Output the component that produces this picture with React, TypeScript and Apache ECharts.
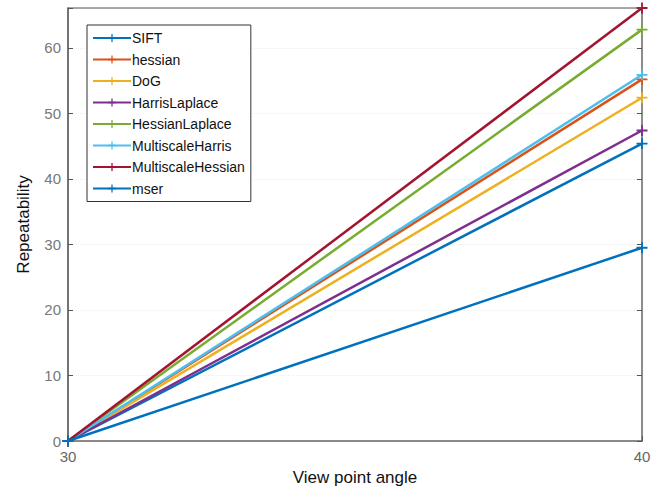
import React, { useEffect, useRef } from "react";
import * as echarts from "echarts";

const xValues = [30, 40];
const seriesNames = [
  "SIFT",
  "hessian",
  "DoG",
  "HarrisLaplace",
  "HessianLaplace",
  "MultiscaleHarris",
  "MultiscaleHessian",
  "mser",
];
const startValues = [0, 0, 0, 0, 0, 0, 0, 0];
const endValues = [45.4, 55.2, 52.4, 47.4, 62.8, 55.9, 66.1, 29.5];
const colors = [
  "#0072BD",
  "#D95319",
  "#EDB120",
  "#7E2F8E",
  "#77AC30",
  "#4DBEEE",
  "#A2142F",
  "#0072BD",
];
const yTicks = [0, 10, 20, 30, 40, 50, 60];

const plusSymbol = "path://M4.2,0H5.8V4.2H10V5.8H5.8V10H4.2V5.8H0V4.2H4.2Z";

export default function App() {
  const ref = useRef<HTMLDivElement>(null);
  useEffect(() => {
    if (!ref.current) return;
    const chart = echarts.init(ref.current, null, { renderer: "svg" });
    const font = "Liberation Sans, Arial, sans-serif";
    chart.setOption({
      animation: false,
      backgroundColor: "#fff",
      grid: { left: 68, right: 23, top: 8, bottom: 48, containLabel: false },
      legend: {
        orient: "vertical",
        left: 87,
        top: 25,
        data: seriesNames,
        itemWidth: 38,
        itemHeight: 10,
        itemGap: 5.5,
        padding: [5, 6, 5, 5],
        borderColor: "#333",
        borderWidth: 1,
        backgroundColor: "#fff",
        textStyle: { fontFamily: font, fontSize: 14, color: "#111", padding: [0, 0, 0, -4], lineHeight: 16 },
      },
      xAxis: {
        type: "value",
        min: 30,
        max: 40,
        interval: 10,
        name: "View point angle",
        nameLocation: "middle",
        nameGap: 28,
        nameTextStyle: { fontFamily: font, fontSize: 17, color: "#111" },
        axisLine: { show: true, lineStyle: { color: "#666", width: 1.5 } },
        axisTick: { show: true, inside: true, length: 5, lineStyle: { color: "#555" } },
        axisLabel: { fontFamily: font, fontSize: 15, color: "#666", margin: 8 },
        splitLine: { show: false },
      },
      yAxis: [
        {
          type: "value",
          min: 0,
          max: 66.1,
          interval: 10,
          name: "Repeatability",
          nameLocation: "middle",
          nameGap: 36,
          nameTextStyle: { fontFamily: font, fontSize: 17, color: "#111" },
          axisLine: { show: true, lineStyle: { color: "#444", width: 1.5 } },
          axisTick: { show: true, inside: true, length: 5, lineStyle: { color: "#555" } },
          axisLabel: {
            fontFamily: font,
            fontSize: 15,
            color: "#777",
            margin: 7,
            formatter: (v: number) => (yTicks.includes(v) ? String(v) : ""),
          },
          splitLine: { show: true, lineStyle: { color: "#eeeeee", type: "dotted" } },
        },
        {
          type: "value",
          position: "right",
          min: 0,
          max: 66.1,
          interval: 10,
          axisLine: { show: true, lineStyle: { color: "#666", width: 1.5 } },
          axisTick: { show: true, inside: true, length: 5, lineStyle: { color: "#555" } },
          axisLabel: { show: false },
          splitLine: { show: false },
        },
      ],
      graphic: [
        {
          type: "line",
          z: 100,
          shape: { x1: 68, y1: 8, x2: 642, y2: 8 },
          style: { stroke: "#555", lineWidth: 1.2 },
          silent: true,
        },
      ],
      series: seriesNames.map((name, i) => ({
        name,
        type: "line",
        yAxisIndex: 0,
        data: xValues.map((x, j) => [x, j === 0 ? startValues[i] : endValues[i]]),
        symbol: plusSymbol,
        symbolSize: 11,
        showSymbol: true,
        lineStyle: { width: 2.5, color: colors[i] },
        itemStyle: { color: colors[i] },
        z: 2 + i,
      })),
    });
    return () => chart.dispose();
  }, []);
  return <div ref={ref} style={{ width: 665, height: 491, position: "absolute", left: 0, top: 0 }} />;
}
